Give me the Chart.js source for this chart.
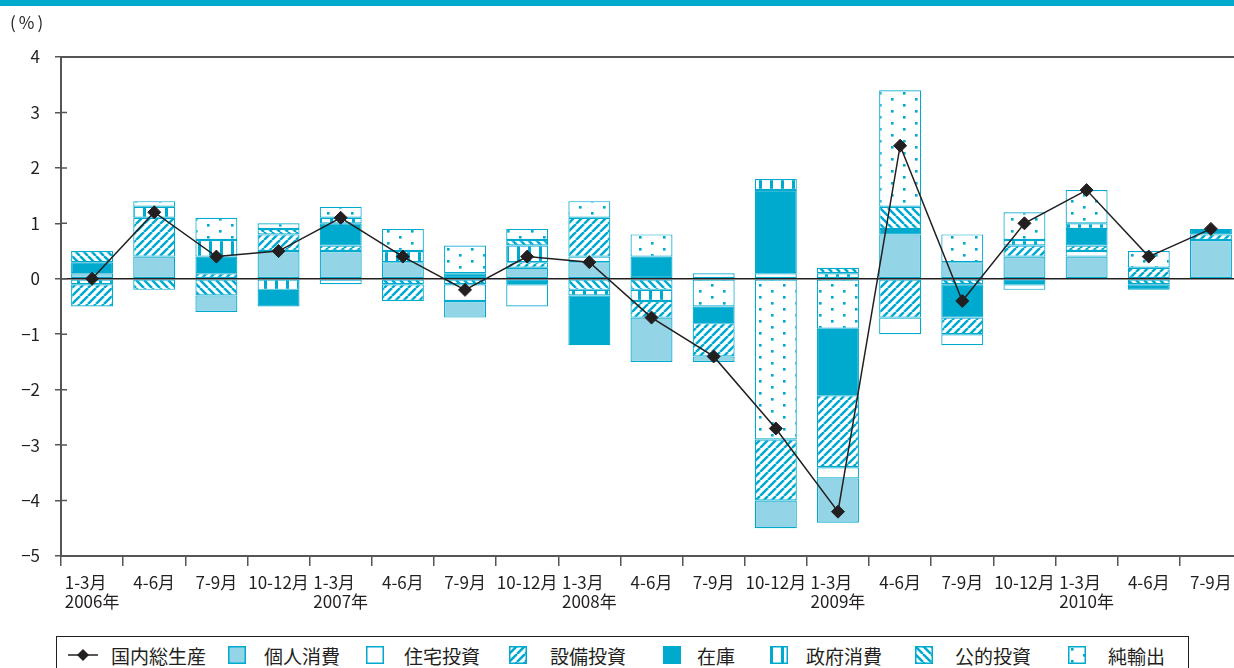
<!DOCTYPE html>
<html lang="ja">
<head>
<meta charset="utf-8">
<title>実質GDP成長率と需要項目別寄与度</title>
<script src="https://cdn.jsdelivr.net/npm/chart.js@4.4.1/dist/chart.umd.min.js"></script>
<style>
  html, body { margin: 0; padding: 0; background: #fff; width: 1234px; height: 668px; overflow: hidden; }
  #topband { position: absolute; left: 0; top: 0; width: 1234px; height: 6px; background: #00a9ce; z-index: 2; }
  #unit { position: absolute; left: 10px; top: 9px; font: 17px "Noto Sans CJK JP", sans-serif; color: #231f20; letter-spacing: 3px; }
  #wrap { position: absolute; left: 0; top: 0; width: 1242px; height: 630px; }
  #legend { position: absolute; left: 56px; top: 636px; width: 1133px; height: 60px; border: 1px solid #231f20; box-sizing: border-box; font: 19px "Noto Sans CJK JP", sans-serif; color: #231f20; }
  #legend canvas { position: absolute; top: 9px; }
  #legend span { position: absolute; top: 0; line-height: 38px; white-space: nowrap; }
</style>
</head>
<body>
<div id="topband"></div>
<div id="wrap"><canvas id="chart" width="1242" height="630"></canvas></div>
<div id="unit">(%)</div>
<div id="legend"></div>
<script>
// 四半期ラベル（1行目：期間、2行目：年）
const quarters = ['1-3月','4-6月','7-9月','10-12月','1-3月','4-6月','7-9月','10-12月','1-3月','4-6月','7-9月','10-12月','1-3月','4-6月','7-9月','10-12月','1-3月','4-6月','7-9月'];
const years    = ['2006年','','','','2007年','','','','2008年','','','','2009年','','','','2010年','',''];

// 前期比成長率（%）と需要項目別寄与度（%ポイント）
const gdp                   = [0.0, 1.2, 0.4, 0.5, 1.1, 0.4,-0.2, 0.4, 0.3,-0.7,-1.4,-2.7,-4.2, 2.4,-0.4, 1.0, 1.6, 0.4, 0.9];
const privateConsumption    = [0.1, 0.4,-0.3, 0.5, 0.5, 0.3,-0.3, 0.2, 0.3,-0.8,-0.1,-0.5,-0.8, 0.8, 0.3, 0.4, 0.4, 0.0, 0.7];
const housingInvestment     = [0.0, 0.0, 0.0, 0.0,-0.1, 0.0,-0.3,-0.4, 0.1, 0.0, 0.1, 0.1,-0.2,-0.3,-0.2,-0.1, 0.1, 0.0, 0.0];
const businessInvestment    = [-0.4,0.7, 0.1, 0.3, 0.1,-0.3, 0.0, 0.1, 0.7,-0.3,-0.6,-1.1,-1.3,-0.7,-0.3, 0.2, 0.1, 0.2, 0.1];
const inventories           = [0.2, 0.0, 0.3,-0.3, 0.4, 0.0, 0.1,-0.1,-0.9, 0.4,-0.3, 1.5,-1.2, 0.1,-0.6,-0.1, 0.3,-0.1, 0.1];
const governmentConsumption = [-0.1,0.2, 0.3,-0.2, 0.1, 0.2, 0.0, 0.3,-0.1,-0.2, 0.0, 0.2, 0.1, 0.0, 0.0, 0.1, 0.1, 0.0, 0.0];
const publicInvestment      = [0.2,-0.2,-0.3, 0.1, 0.0,-0.1,-0.1, 0.1,-0.2,-0.2, 0.0, 0.0, 0.1, 0.4,-0.1, 0.0, 0.0,-0.1, 0.0];
const netExports            = [0.0, 0.1, 0.4, 0.1, 0.2, 0.4, 0.5, 0.2, 0.3, 0.4,-0.5,-2.9,-0.9, 2.1, 0.5, 0.5, 0.6, 0.3, 0.0];

// 縦軸の範囲
const yMin = -5, yMax = 4, yStep = 1;

const TEAL = '#00a9ce';
const LIGHT = '#93d5e6';
const INK = '#231f20';
const AXIS = '#555555';
const FONT = '"Noto Sans CJK JP", sans-serif';

// 塗り模様（斜線・縦線・点）
function makeFill(ctx, kind) {
  if (kind === 'light') return LIGHT;
  if (kind === 'white') return '#ffffff';
  if (kind === 'solid') return TEAL;
  const c = document.createElement('canvas');
  const g = c.getContext('2d');
  if (kind === 'fwd' || kind === 'back') {
    c.width = 8; c.height = 8;
    g.fillStyle = '#fff'; g.fillRect(0, 0, 8, 8);
    g.strokeStyle = TEAL; g.lineWidth = 2.5;
    g.beginPath();
    for (const k of [-8, 0, 8]) {
      if (kind === 'fwd') { g.moveTo(k, 8); g.lineTo(k + 8, 0); }
      else { g.moveTo(k, 0); g.lineTo(k + 8, 8); }
    }
    g.stroke();
  } else if (kind === 'vert') {
    c.width = 11; c.height = 4;
    g.fillStyle = '#fff'; g.fillRect(0, 0, 11, 4);
    g.fillStyle = TEAL; g.fillRect(0, 0, 3, 4);
  } else if (kind === 'dots') {
    c.width = 24; c.height = 12;
    g.fillStyle = '#fff'; g.fillRect(0, 0, 24, 12);
    g.fillStyle = TEAL;
    g.fillRect(3, 2, 2.6, 2.6);
    g.fillRect(15, 8, 2.6, 2.6);
  }
  return ctx.createPattern(c, 'repeat');
}

const series = [
  { label: '個人消費', data: privateConsumption,    fill: 'light' },
  { label: '住宅投資', data: housingInvestment,     fill: 'white' },
  { label: '設備投資', data: businessInvestment,    fill: 'fwd'   },
  { label: '在庫',     data: inventories,           fill: 'solid' },
  { label: '政府消費', data: governmentConsumption, fill: 'vert'  },
  { label: '公的投資', data: publicInvestment,      fill: 'back'  },
  { label: '純輸出',   data: netExports,            fill: 'dots'  }
];

const canvas = document.getElementById('chart');
const ctx = canvas.getContext('2d');

function barSet(s, sign) {
  return {
    type: 'bar',
    label: s.label,
    stack: 'parts',
    data: s.data.map(v => (sign > 0 ? (v > 0 ? v : null) : (v < 0 ? v : null))),
    backgroundColor: makeFill(ctx, s.fill),
    borderColor: TEAL,
    borderWidth: 1.2,
    borderSkipped: false,
    categoryPercentage: 0.675,
    barPercentage: 1.0
  };
}

// プラス側は下から系列順、マイナス側は0から逆順に積み上げ
const datasets = [
  {
    type: 'line',
    label: '国内総生産',
    stack: 'gdp',
    data: gdp,
    borderColor: INK,
    borderWidth: 1.5,
    pointStyle: 'rectRot',
    pointRadius: 6.5,
    pointBackgroundColor: INK,
    pointBorderColor: INK,
    pointBorderWidth: 1,
    tension: 0,
    fill: false
  },
  ...series.map(s => barSet(s, 1)),
  ...series.slice().reverse().map(s => barSet(s, -1))
];

const frame = {
  id: 'frame',
  beforeDatasetDraw(chart, args) {
    if (args.index !== 0) return;
    const { ctx, chartArea: a, scales: { y } } = chart;
    const y0 = y.getPixelForValue(0);
    ctx.save();
    ctx.strokeStyle = INK; ctx.lineWidth = 1.5;
    ctx.beginPath(); ctx.moveTo(a.left, y0); ctx.lineTo(a.right, y0); ctx.stroke();
    ctx.restore();
  },
  afterDraw(chart) {
    const { ctx, chartArea: a, scales: { x, y } } = chart;
    ctx.save();
    ctx.strokeStyle = AXIS; ctx.lineWidth = 2;
    ctx.beginPath(); ctx.moveTo(a.left - 1, a.top); ctx.lineTo(a.right, a.top); ctx.stroke();
    // 目盛り線の内側部分
    ctx.lineWidth = 1.5;
    ctx.beginPath();
    y.ticks.forEach(t => {
      const py = y.getPixelForValue(t.value);
      ctx.moveTo(a.left, py); ctx.lineTo(a.left + 6, py);
    });
    ctx.stroke();
    // 横軸ラベル（2行は左揃えで中央配置）
    ctx.font = '17px ' + FONT;
    ctx.fillStyle = INK;
    ctx.textBaseline = 'middle';
    ctx.textAlign = 'left';
    quarters.forEach((q, i) => {
      const lines = [q, years[i]].filter(s => s);
      const w = Math.max(...lines.map(s => ctx.measureText(s).width));
      const px = x.getPixelForValue(i) - w / 2;
      lines.forEach((s, k) => ctx.fillText(s, px, a.bottom + 27 + k * 19));
    });
    ctx.restore();
  }
};

new Chart(ctx, {
  type: 'bar',
  data: { labels: quarters, datasets },
  options: {
    responsive: false,
    devicePixelRatio: 1,
    animation: false,
    events: [],
    layout: { autoPadding: false, padding: { top: 57, left: 0, right: 0, bottom: 0 } },
    plugins: { legend: { display: false }, tooltip: { enabled: false } },
    scales: {
      x: {
        stacked: true,
        offset: true,
        grid: { display: true, drawOnChartArea: false, drawTicks: true, tickLength: 10, offset: true, color: AXIS, lineWidth: 1.5 },
        border: { display: true, color: AXIS, width: 2 },
        ticks: { display: false, autoSkip: false, maxRotation: 0, minRotation: 0 },
        afterFit(scale) { scale.height = 74; }
      },
      y: {
        stacked: true,
        min: yMin, max: yMax,
        grid: { display: true, drawOnChartArea: false, drawTicks: true, tickLength: 6, color: AXIS, lineWidth: 1.5 },
        border: { display: true, color: AXIS, width: 2 },
        ticks: {
          stepSize: yStep,
          padding: 15,
          color: INK,
          font: { family: FONT, size: 17 },
          callback: v => (v < 0 ? '\u2212' + Math.abs(v) : String(v))
        },
        afterFit(scale) { scale.width = 61; }
      }
    }
  },
  plugins: [frame]
});

// 凡例
const legendPos = [
  { sw: 11,   tx: 54 },
  { sw: 171,  tx: 207 },
  { sw: 309,  tx: 347 },
  { sw: 452,  tx: 493 },
  { sw: 606,  tx: 640 },
  { sw: 713,  tx: 749 },
  { sw: 858,  tx: 898 },
  { sw: 1011, tx: 1051 }
];
const legend = document.getElementById('legend');
const legendItems = [{ label: '国内総生産', line: true }, ...series];
legendItems.forEach((it, i) => {
  const c = document.createElement('canvas');
  const g = c.getContext('2d');
  if (it.line) {
    c.width = 30; c.height = 18;
    g.strokeStyle = INK; g.lineWidth = 1.5;
    g.beginPath(); g.moveTo(0, 9); g.lineTo(30, 9); g.stroke();
    g.fillStyle = INK;
    g.beginPath(); g.moveTo(15, 3); g.lineTo(21, 9); g.lineTo(15, 15); g.lineTo(9, 9); g.closePath(); g.fill();
  } else {
    c.width = 18; c.height = 18;
    g.fillStyle = makeFill(g, it.fill);
    g.fillRect(0, 0, 18, 18);
    g.strokeStyle = TEAL; g.lineWidth = 1.5;
    g.strokeRect(0.75, 0.75, 16.5, 16.5);
  }
  c.style.left = legendPos[i].sw + 'px';
  legend.appendChild(c);
  const t = document.createElement('span');
  t.textContent = it.label;
  t.style.left = legendPos[i].tx + 'px';
  legend.appendChild(t);
});
</script>
</body>
</html>
